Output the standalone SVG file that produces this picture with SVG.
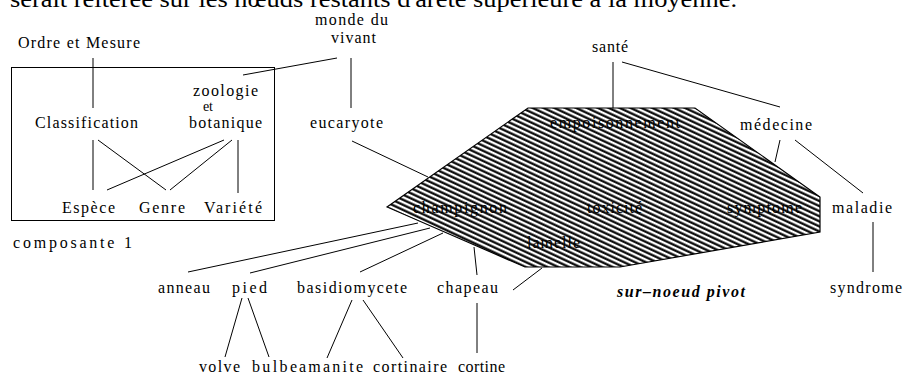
<svg xmlns="http://www.w3.org/2000/svg" width="905" height="376" viewBox="0 0 905 376">
<defs>
<pattern id="hatch" patternUnits="userSpaceOnUse" width="10" height="4.6" patternTransform="rotate(25)">
<rect width="10" height="4.6" fill="#fff"/>
<rect x="0" y="0.4" width="10" height="2.2" fill="#000"/>
</pattern>
<style>
text{font-family:"Liberation Serif","Times New Roman",serif;font-size:16px;fill:#000;text-anchor:start}
line{stroke:#000;stroke-width:1}
.title{font-size:24px}
.small{font-size:14px}
.piv{font-weight:bold;font-style:italic}
</style>
</defs>
<rect width="905" height="376" fill="#fff"/>
<text class="title" x="10" y="7" textLength="727" lengthAdjust="spacingAndGlyphs">serait réitérée sur les nœuds restants d'arête supérieure à la moyenne.</text>

<g id="composante">
<rect x="11.5" y="67.5" width="263" height="153" fill="none" stroke="#000" stroke-width="1"/>
</g>

<g id="pivot">
<polygon points="387,207 528,108 695,108 820,197 820,232 620,267 525,267" fill="url(#hatch)" stroke="#000" stroke-width="1.2"/>
</g>

<g id="connectors">
<line x1="93" y1="58" x2="93" y2="108"/>
<line x1="337" y1="58" x2="243" y2="75"/>
<line x1="351" y1="58" x2="351" y2="108"/>
<line x1="93" y1="140" x2="93" y2="190"/>
<line x1="98" y1="140" x2="166" y2="190"/>
<line x1="224" y1="140" x2="107" y2="190"/>
<line x1="232" y1="140" x2="170" y2="190"/>
<line x1="238" y1="140" x2="238" y2="193"/>
<line x1="352" y1="141" x2="428" y2="177"/>
<line x1="188" y1="272" x2="418" y2="223"/>
<line x1="250" y1="273" x2="430" y2="228"/>
<line x1="360" y1="272" x2="443" y2="233"/>
<line x1="474" y1="247" x2="477" y2="275"/>
<line x1="513" y1="290" x2="542" y2="268"/>
<line x1="477" y1="303" x2="477" y2="353"/>
<line x1="242" y1="298" x2="225" y2="357"/>
<line x1="248" y1="298" x2="269" y2="357"/>
<line x1="352" y1="300" x2="327" y2="358"/>
<line x1="363" y1="300" x2="403" y2="358"/>
<line x1="613" y1="62" x2="613" y2="108"/>
<line x1="622" y1="62" x2="780" y2="107"/>
<line x1="780" y1="140" x2="775" y2="162"/>
<line x1="795" y1="140" x2="863" y2="193"/>
<line x1="873" y1="222" x2="873" y2="272"/>
</g>

<g id="n-ordre"><text x="18" y="48" textLength="122">Ordre et Mesure</text></g>
<g id="n-monde"><text x="315" y="25" textLength="73">monde du</text><text x="331" y="43" textLength="45">vivant</text></g>
<g id="n-classification"><text x="35" y="128" textLength="103">Classification</text></g>
<g id="n-zoologie"><text x="193" y="96" textLength="65">zoologie</text><text class="small" x="203" y="111" textLength="10">et</text><text x="189" y="128" textLength="73">botanique</text></g>
<g id="n-eucaryote"><text x="310" y="128" textLength="73">eucaryote</text></g>
<g id="n-espece"><text x="62" y="213" textLength="53">Espèce</text></g>
<g id="n-genre"><text x="139" y="213" textLength="46">Genre</text></g>
<g id="n-variete"><text x="204" y="213" textLength="58">Variété</text></g>
<g id="n-composante"><text x="13" y="248" textLength="119">composante 1</text></g>
<g id="n-sante"><text x="592" y="52" textLength="36">santé</text></g>
<g id="n-empoisonnement"><text x="550" y="128" textLength="130">empoisonnement</text></g>
<g id="n-medecine"><text x="740" y="130" textLength="72">médecine</text></g>
<g id="n-champignon"><text x="413" y="213" textLength="94">champignon</text></g>
<g id="n-toxicite"><text x="587" y="213" textLength="55">toxicité</text></g>
<g id="n-symptome"><text x="727" y="213" textLength="75">symptome</text></g>
<g id="n-maladie"><text x="832" y="213" textLength="60">maladie</text></g>
<g id="n-lamelle"><text x="527" y="248" textLength="53">lamelle</text></g>
<g id="n-anneau"><text x="158" y="293" textLength="52">anneau</text></g>
<g id="n-pied"><text x="232" y="293" textLength="35">pied</text></g>
<g id="n-basidiomycete"><text x="297" y="293" textLength="110">basidiomycete</text></g>
<g id="n-chapeau"><text x="437" y="293" textLength="61">chapeau</text></g>
<g id="n-syndrome"><text x="830" y="293" textLength="72">syndrome</text></g>
<g id="n-pivot"><text class="piv" x="617" y="297" textLength="128">sur–noeud pivot</text></g>
<g id="n-volve"><text x="199" y="372" textLength="41">volve</text></g>
<g id="n-bulbe"><text x="252" y="372" textLength="45">bulbe</text></g>
<g id="n-amanite"><text x="299" y="372" textLength="64">amanite</text></g>
<g id="n-cortinaire"><text x="373" y="372" textLength="74">cortinaire</text></g>
<g id="n-cortine"><text x="458" y="372" textLength="47">cortine</text></g>
</svg>
